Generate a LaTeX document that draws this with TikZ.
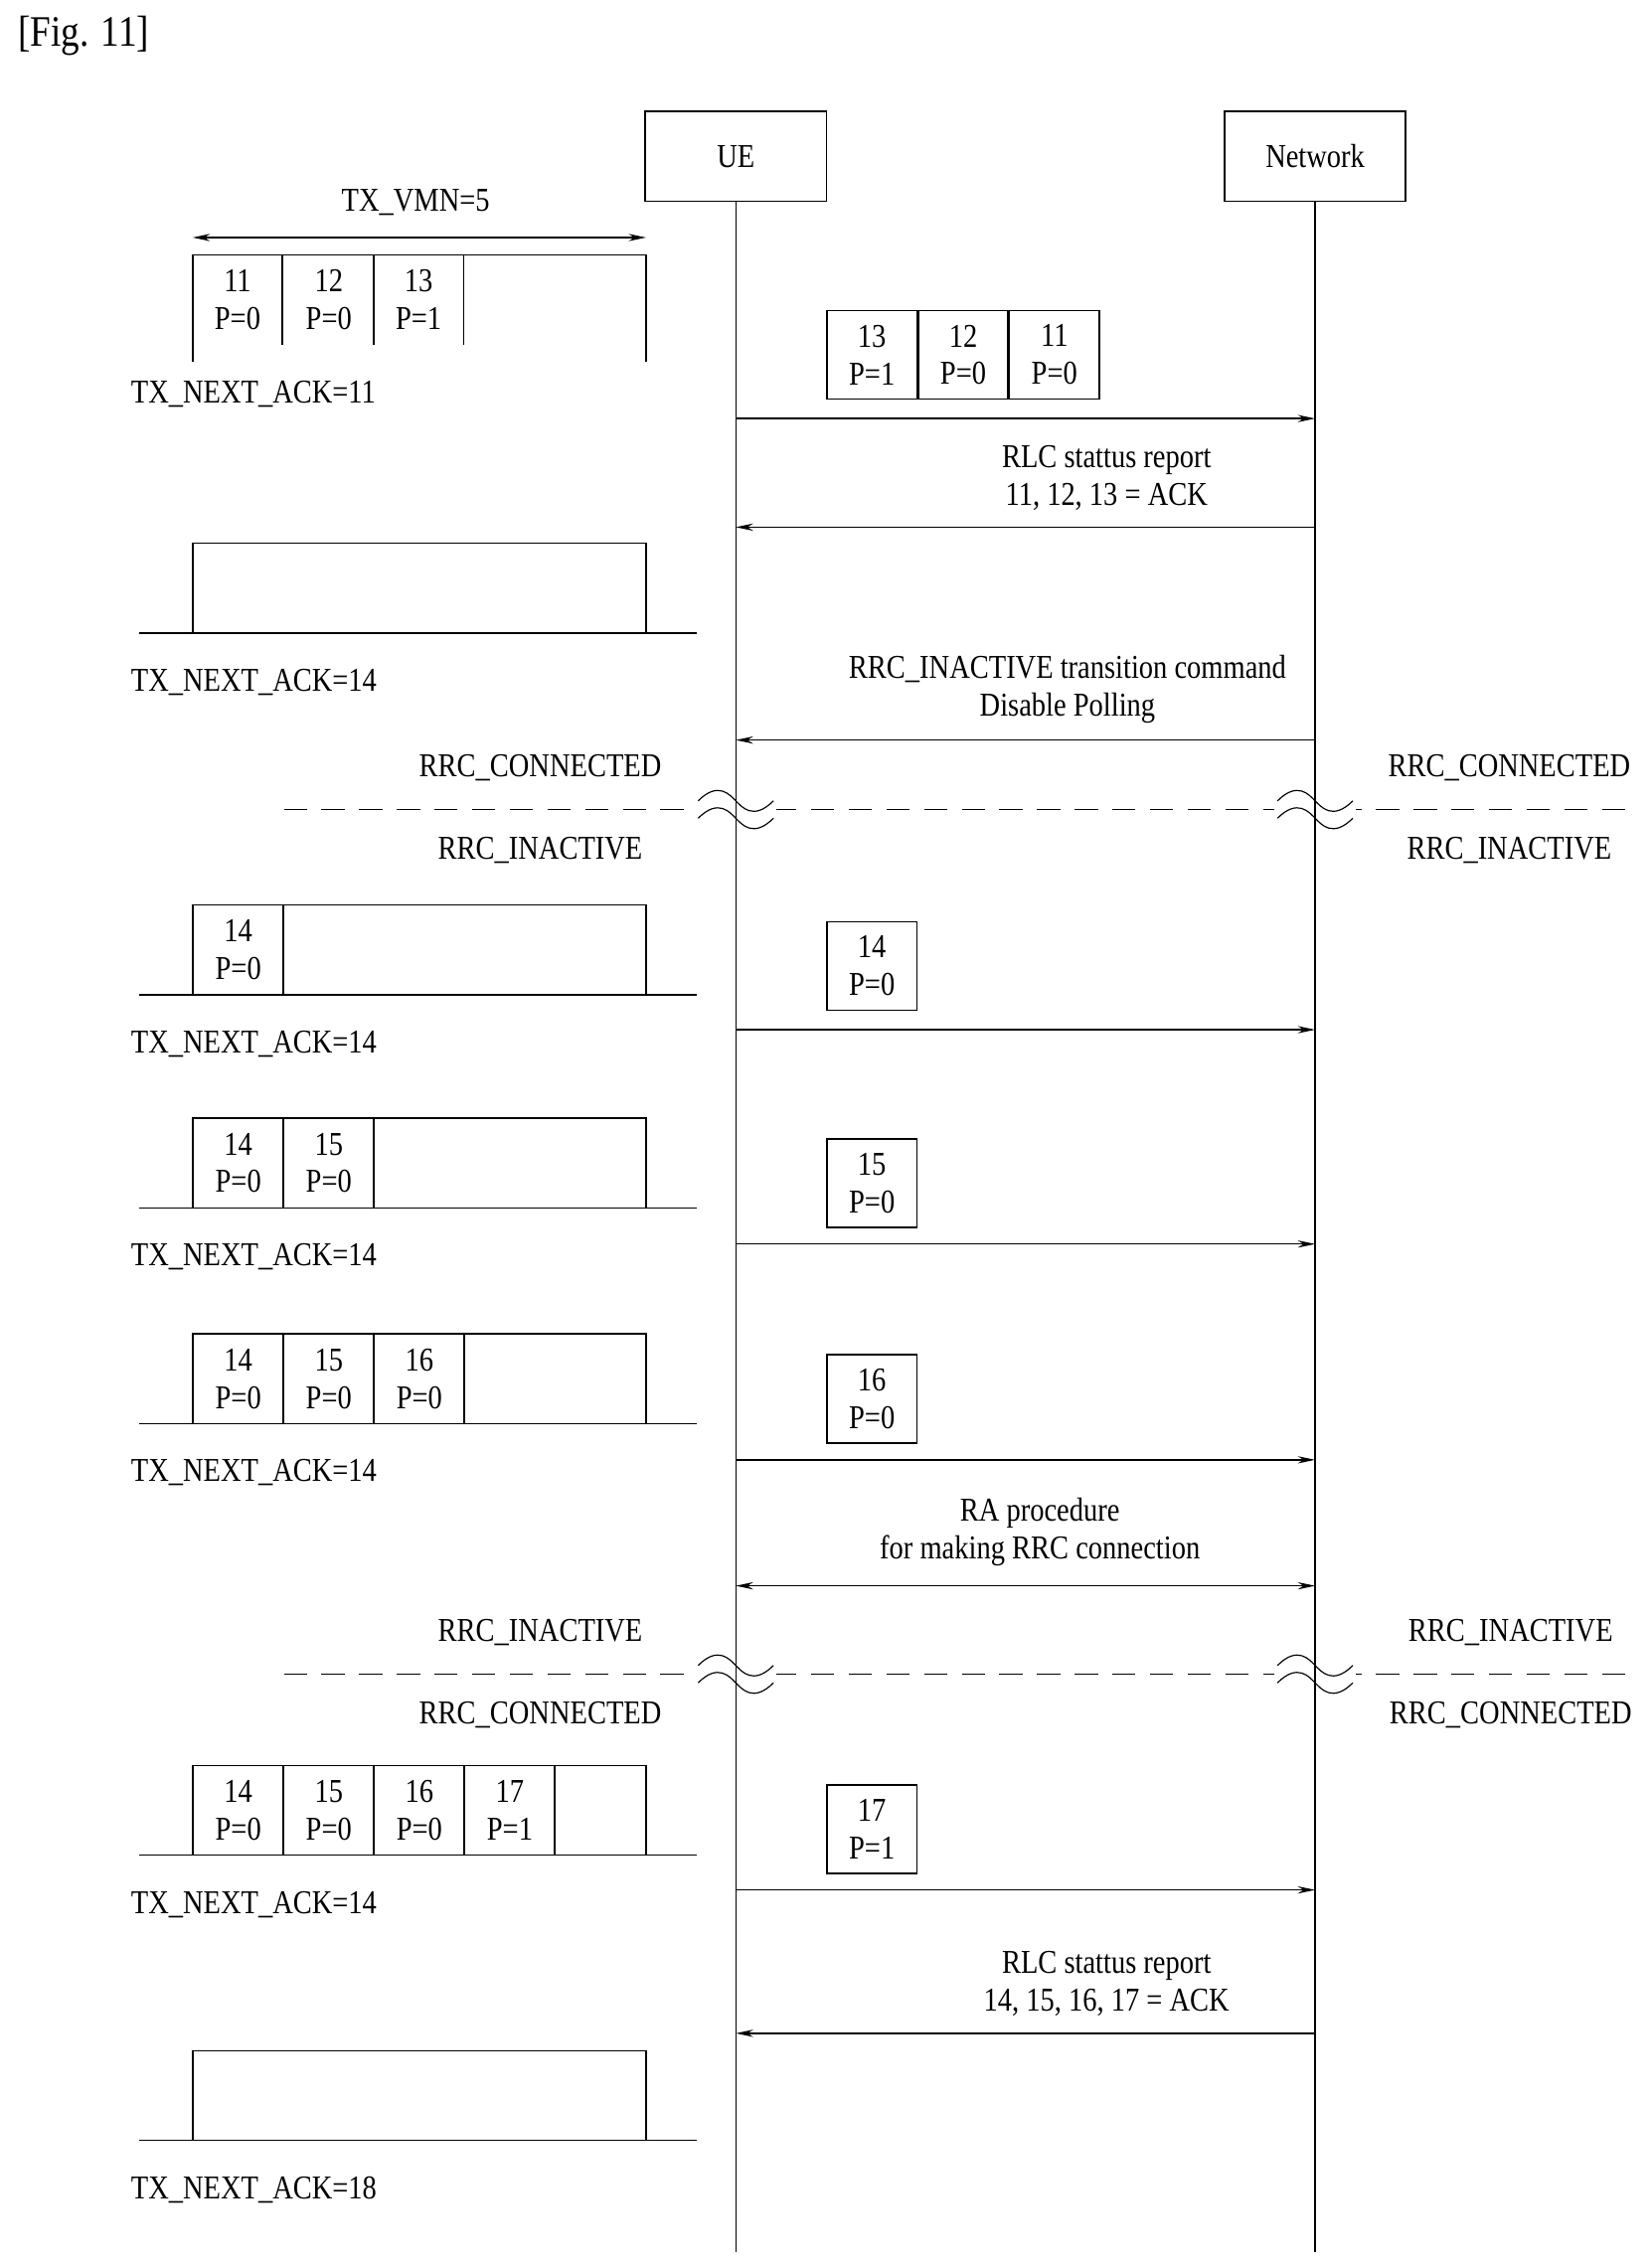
\documentclass[tikz,border=0pt]{standalone}
\usepackage{fontspec}
\setmainfont{Liberation Serif}[FakeStretch=0.85]
\usetikzlibrary{arrows.meta}
\begin{document}
\begin{tikzpicture}[x=1pt,y=-1pt,line width=1pt,
  txt/.style={font=\fontsize{23}{26}\selectfont,inner sep=0pt},
  box/.style={draw,minimum width=125pt,minimum height=62pt,font=\fontsize{23}{26}\selectfont},
  cell/.style={draw,minimum width=62pt,minimum height=61pt,inner sep=0pt,align=center,font=\fontsize{23}{26}\selectfont},
  msg/.style={-{Stealth[length=12pt,width=5pt]}},
  dmsg/.style={{Stealth[length=12pt,width=5pt]}-{Stealth[length=12pt,width=5pt]}},
  st/.style={dash pattern=on 16pt off 10pt}]
\useasboundingbox (0,0) rectangle (1140,1564);
\node[txt,anchor=west,font=\fontsize{30}{32}\selectfont] (fig) at (12,25) {[Fig. 11]};
\node[box] (ue) at (508,108) {UE};
\node[box] (nw) at (908,108) {Network};
\coordinate (ueE) at (508,1555);
\coordinate (nwE) at (908,1555);
\draw (ue.south) -- (ueE);
\draw (nw.south) -- (nwE);
\coordinate (v1) at (133,164); \coordinate (v2) at (446,164);
\draw[dmsg] (v1) -- (v2);
\node[txt] (vmn) at (287,140) {TX\_VMN=5};
\draw (133,250) -- (133,176) -- (446,176) -- (446,250);
\foreach \x in {195,258,320} \draw (\x,176) -- (\x,238);
\node[txt,align=center] (w1a) at (164,207) {11\\P=0};
\node[txt,align=center] (w1b) at (227,207) {12\\P=0};
\node[txt,align=center] (w1c) at (289,207) {13\\P=1};
\node[txt,anchor=west] (n1) at (90,272) {TX\_NEXT\_ACK=11};
\foreach \t/\lab/\cells in {375/14/{},625/14/{14/0},772/14/{14/0,15/0},921/14/{14/0,15/0,16/0},1219/14/{14/0,15/0,16/0,17/1},1416/18/{}}{
  \draw (96,\t+62) -- (481,\t+62);
  \draw (133,\t+62) -- (133,\t) -- (446,\t) -- (446,\t+62);
  \foreach \n/\p [count=\i] in \cells {
    \draw (133+\i*62.5,\t) -- (133+\i*62.5,\t+62);
    \node[txt,align=center] at (133+\i*62.5-31,\t+31) {\n\\P=\p};
  }
  \node[txt,anchor=west] at (90,\t+96) {TX\_NEXT\_ACK=\lab};
}
\node[cell] (p13) at (602,245) {13\\P=1};
\node[cell,anchor=west] (p12) at (p13.east) {12\\P=0};
\node[cell,anchor=west] (p11) at (p12.east) {11\\P=0};
\coordinate (a1s) at (508,289); \coordinate (a1e) at (908,289);
\draw[msg] (a1s) -- (a1e);
\node[txt,align=center] (r1) at (764,330) {RLC stattus report\\11, 12, 13 = ACK};
\coordinate (a2s) at (908,364); \coordinate (a2e) at (508,364);
\draw[msg] (a2s) -- (a2e);
\node[txt,align=center] (r2) at (737,476) {RRC\_INACTIVE transition command\\Disable Polling};
\coordinate (a3s) at (908,511); \coordinate (a3e) at (508,511);
\draw[msg] (a3s) -- (a3e);
\draw[st] (196,559) -- (1130,559);
\node[txt] (s1) at (373,530) {RRC\_CONNECTED};
\node[txt] (s2) at (1042,530) {RRC\_CONNECTED};
\node[txt] (s3) at (373,587) {RRC\_INACTIVE};
\node[txt] (s4) at (1042,587) {RRC\_INACTIVE};
\node[cell] (p14) at (602,667) {14\\P=0};
\coordinate (a4s) at (508,711); \coordinate (a4e) at (908,711);
\draw[msg] (a4s) -- (a4e);
\node[cell] (p15) at (602,817) {15\\P=0};
\coordinate (a5s) at (508,859); \coordinate (a5e) at (908,859);
\draw[msg] (a5s) -- (a5e);
\node[cell] (p16) at (602,966) {16\\P=0};
\coordinate (a6s) at (508,1008); \coordinate (a6e) at (908,1008);
\draw[msg] (a6s) -- (a6e);
\node[txt,align=center] (ra) at (718,1058) {RA procedure\\for making RRC connection};
\coordinate (a7s) at (508,1095); \coordinate (a7e) at (908,1095);
\draw[dmsg] (a7s) -- (a7e);
\draw[st] (196,1156) -- (1130,1156);
\node[txt] (t1) at (373,1127) {RRC\_INACTIVE};
\node[txt] (t2) at (1043,1127) {RRC\_INACTIVE};
\node[txt] (t3) at (373,1184) {RRC\_CONNECTED};
\node[txt] (t4) at (1043,1184) {RRC\_CONNECTED};
\foreach \x/\y in {508/559,908/559,508/1156,908/1156}{
  \fill[white] (\x-28,\y-14) rectangle (\x+28,\y+14);
  \draw (\x,\y-14) -- (\x,\y+14);
  \foreach \d in {-6,6}
   \draw[line width=0.8pt] (\x-26,\y+\d) .. controls (\x-12,\y+\d-14) and (\x-4,\y+\d-4) .. (\x,\y+\d) .. controls (\x+4,\y+\d+4) and (\x+12,\y+\d+14) .. (\x+26,\y+\d);
}
\node[cell] (p17) at (602,1263) {17\\P=1};
\coordinate (a8s) at (508,1305); \coordinate (a8e) at (908,1305);
\draw[msg] (a8s) -- (a8e);
\node[txt,align=center] (r3) at (764,1370) {RLC stattus report\\14, 15, 16, 17 = ACK};
\coordinate (a9s) at (908,1404); \coordinate (a9e) at (508,1404);
\draw[msg] (a9s) -- (a9e);
\end{tikzpicture}
\end{document}
